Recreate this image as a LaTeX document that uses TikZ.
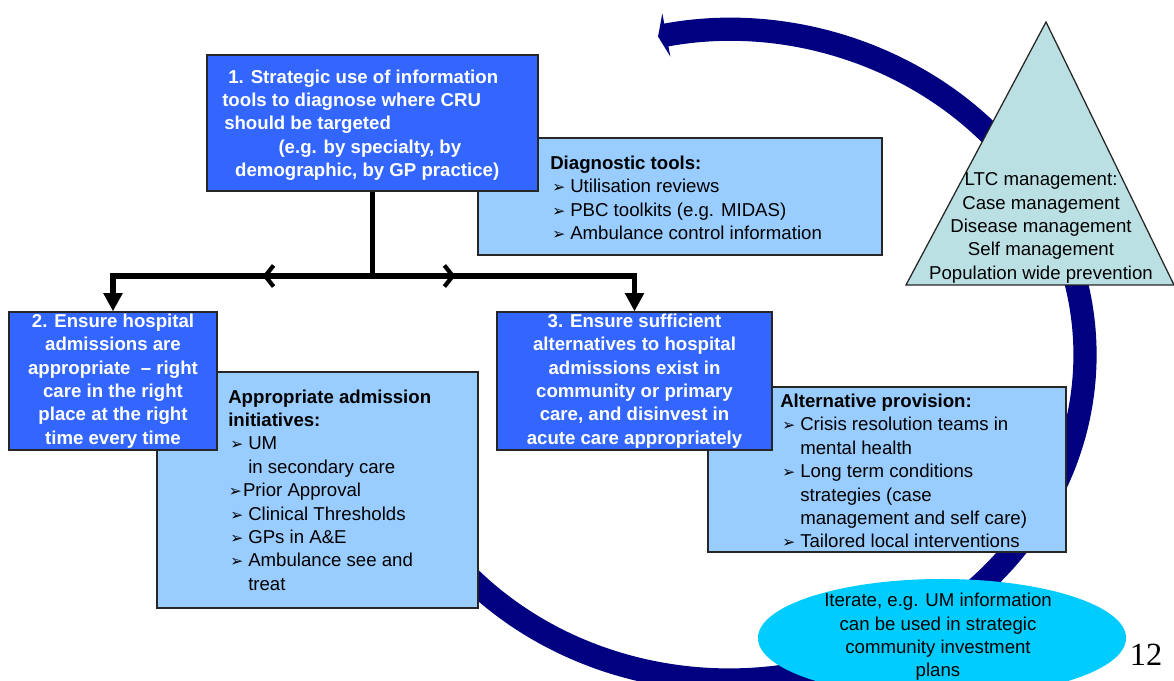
\documentclass[tikz,border=0pt]{standalone}
\usepackage{fontspec}
\setmainfont{Liberation Sans}
\newfontfamily\djv{DejaVu Sans}
\newfontfamily\tms{Liberation Serif}
\usetikzlibrary{arrows.meta,shapes.geometric,decorations.markings}
\definecolor{boxblue}{HTML}{3366FF}
\definecolor{lightblue}{HTML}{99CCFF}
\definecolor{navyarc}{HTML}{000080}
\definecolor{tealtri}{HTML}{BBE0E3}
\definecolor{cyanell}{HTML}{00CCFF}
\newcommand\bul{{\djv\fontsize{11}{10}\selectfont ➢}}
\newcommand\itm[1]{\makebox[14.2pt][l]{\hspace{1.5pt}\bul}#1}
\newcommand\itmn[1]{\makebox[10.5pt][l]{\hspace{0.5pt}\bul}#1}
\newcommand\cnt{\hspace*{14.2pt}}
\begin{document}
\begin{tikzpicture}[x=0.025cm,y=-0.025cm,
  txt/.style={font=\fontsize{13.25}{16.6}\selectfont, inner sep=0pt},
  btxt/.style={font=\fontsize{13.25}{16.6}\selectfont\bfseries, inner sep=0pt, text=white},
  bluebox/.style={draw=black!85, line width=0.9pt, fill=boxblue, inner sep=0pt},
  lightbox/.style={draw=black!85, line width=0.9pt, fill=lightblue, inner sep=0pt},
  conn/.style={line width=3.6pt, black},
  chev/.style={decoration={markings, mark=at position #1 with {\arrow{Straight Barb[length=6pt,width=15pt,line width=3pt]}}}, postaction={decorate}},
]
\useasboundingbox (0,0) rectangle (1174,681);
% big cycle arc
\draw[navyarc, line width=16.5pt, -{Triangle[length=6pt,width=31pt]}]
  ([shift={(140:356 and 325)}]729,355) arc[start angle=140, end angle=-101.5, x radius=356, y radius=325];

% boxes
\node[lightbox, minimum width=10.1cm, minimum height=2.925cm] (diag) at (680,196.5) {};
\node[bluebox, minimum width=8.275cm, minimum height=3.4cm] (b1) at (372.5,123) {};
\node[lightbox, minimum width=8.025cm, minimum height=5.9cm] (appr) at (317.5,490) {};
\node[bluebox, minimum width=5.2cm, minimum height=3.45cm, btxt, align=center] (b2) at (113,381)
  {2. Ensure hospital\\admissions are\\appropriate\ \ -- right\\care in the right\\place at the right\\time every time};
\node[lightbox, minimum width=8.95cm, minimum height=4.125cm] (alt) at (887,469.5) {};
\node[bluebox, minimum width=6.875cm, minimum height=3.45cm, btxt, align=center] (b3) at (634.5,381)
  {3. Ensure sufficient\\alternatives to hospital\\admissions exist in\\community or primary\\care, and disinvest in\\acute care appropriately};

% texts
\node[btxt, align=left, anchor=west] (b1t) at (222,125)
  {\hspace*{4.3pt}1. Strategic use of information\\tools to diagnose where CRU\\\hspace*{1.4pt}should be targeted\\\hspace*{40pt}(e.g. by specialty, by\\\hspace*{9.2pt}demographic, by GP practice)};
\node[txt, align=left, anchor=west] (diagt) at (550,198)
  {\textbf{Diagnostic tools:}\\\itm{Utilisation reviews}\\\itm{PBC toolkits (e.g. MIDAS)}\\\itm{Ambulance control information}};
\node[txt, align=left, anchor=west] (apprt) at (228,490)
  {\textbf{Appropriate admission}\\\textbf{initiatives:}\\\itm{UM}\\\cnt in secondary care\\\itmn{Prior Approval}\\\itm{Clinical Thresholds}\\\itm{GPs in A\&E}\\\itm{Ambulance see and}\\\cnt treat};
\node[txt, align=left, anchor=west] (altt) at (780,471)
  {\textbf{Alternative provision:}\\\itm{Crisis resolution teams in}\\\cnt mental health\\\itm{Long term conditions}\\\cnt strategies (case\\\cnt management and self care)\\\itm{Tailored local interventions}};

% connectors
\coordinate (j) at (b1.south |- 0,276);
\draw[conn] (b1.south) -- (j);
\draw[conn, -{Triangle[length=13pt,width=13pt]}, chev=2.75cm] (j) -| (b2.north);
\draw[conn, -{Triangle[length=13pt,width=13pt]}, chev=2.075cm] (j) -| (b3.north);

% LTC triangle
\draw[draw=black!85, line width=0.9pt, fill=tealtri] (1046,22) -- (906,285) -- (1174,285) -- cycle;
\node[txt, align=center] (ltc) at (1041,228)
  {LTC management:\\Case management\\Disease management\\Self management\\Population wide prevention};

% iterate ellipse
\node[ellipse, fill=cyanell, minimum width=9.2cm, minimum height=2.95cm, inner sep=0pt] (iter) at (942,638) {};
\node[txt, align=center] (itert) at (938,637)
  {Iterate, e.g. UM information\\can be used in strategic\\community investment\\plans};

\node[font=\tms\fontsize{23}{23}\selectfont, inner sep=0pt] (pg) at (1146,655) {12};
\end{tikzpicture}
\end{document}
